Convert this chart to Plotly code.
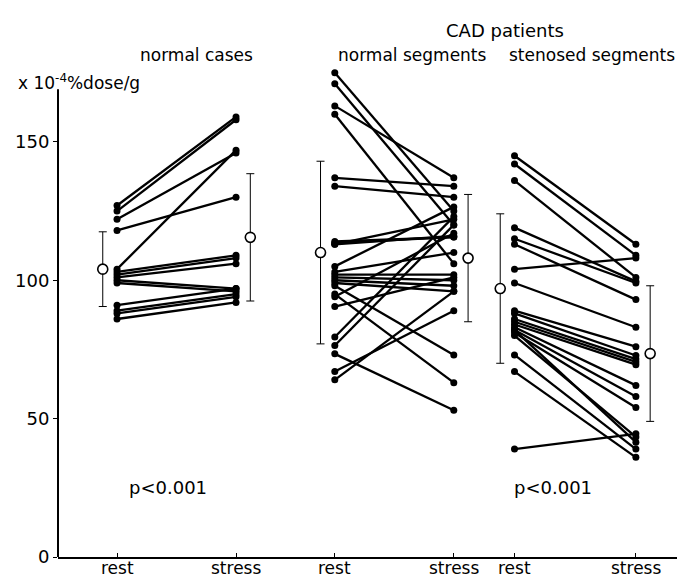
import plotly.graph_objects as go

# ---------------- data (x10^-4 %dose/g) ----------------
normal_rest   = [127, 125, 122, 118, 104, 103, 102, 101, 100, 99, 91, 89, 88, 86]
normal_stress = [159, 158, 146, 130, 147, 109, 108, 106, 97, 96, 97, 95, 94, 92]

cadn_rest   = [175, 171, 163, 160, 137, 134, 114, 113.5, 113, 113, 105, 103, 102, 101, 100, 99, 98, 95, 94, 90.5, 79.5, 76.4, 73.4, 67, 64]
cadn_stress = [125, 120, 137, 106, 134, 130, 115.6, 115.6, 116, 122, 126.5, 110, 102, 100, 98, 96, 73, 63, 117, 101, 123, 120, 53, 89, 96]

sten_rest   = [145, 142, 136, 119, 115, 113, 104, 99, 89, 88, 86, 85, 84, 83, 82, 81, 80, 82, 73, 67, 39]
sten_stress = [113, 109, 101, 99.6, 99, 93, 108, 83, 76, 72.8, 71.5, 70.5, 69.5, 62, 58, 54, 43.4, 41.5, 39, 36, 44.5]

mean_rest   = [104, 110, 97]
sd_rest     = [13.5, 33, 27]
mean_stress = [115.5, 108, 73.5]
sd_stress   = [23, 23, 24.5]

tick_labels = ["rest", "stress", "rest", "stress", "rest", "stress"]
group_titles = ["normal cases", "normal segments", "stenosed segments"]
super_title = "CAD patients"
y_unit = "x 10<sup>-4</sup>%dose/g"
p_labels = ["p&lt;0.001", "p&lt;0.001"]

# ---------------- layout constants ----------------
TICK_X = [0, 1, 1.83, 2.83, 3.34, 4.36]
MEAN_OFF = 0.12
FONT = "DejaVu Sans, sans-serif"

fig = go.Figure()

groups = [(normal_rest, normal_stress), (cadn_rest, cadn_stress), (sten_rest, sten_stress)]
for gi, (r, s) in enumerate(groups):
    xr, xs = TICK_X[2 * gi], TICK_X[2 * gi + 1]
    xx, yy = [], []
    for a, b in zip(r, s):
        xx += [xr, xs, None]
        yy += [a, b, None]
    fig.add_trace(go.Scatter(x=xx, y=yy, mode="lines+markers",
                             line=dict(color="black", width=2.3),
                             marker=dict(color="black", size=7),
                             showlegend=False, hoverinfo="skip"))

# means with SD
for gi in range(3):
    xr, xs = TICK_X[2 * gi] - MEAN_OFF, TICK_X[2 * gi + 1] + MEAN_OFF
    fig.add_trace(go.Scatter(
        x=[xr, xs], y=[mean_rest[gi], mean_stress[gi]], mode="markers",
        marker=dict(symbol="circle", size=10, color="white",
                    line=dict(color="black", width=1.6)),
        error_y=dict(type="data", array=[sd_rest[gi], sd_stress[gi]],
                     color="black", thickness=1, width=4),
        showlegend=False, hoverinfo="skip"))

fig.update_layout(
    width=685, height=579,
    margin=dict(l=50, r=0, t=50, b=30),
    paper_bgcolor="white", plot_bgcolor="white",
    font=dict(family=FONT, size=18, color="black"),
    xaxis=dict(range=[-0.496, 4.84], tickvals=TICK_X, showticklabels=False,
               showgrid=False, zeroline=False, showline=True, linecolor="black",
               linewidth=2, ticks="inside", ticklen=4, tickcolor="black",
               automargin=False),
    yaxis=dict(range=[0, 180.3], tickvals=[0, 50, 100, 150],
               showgrid=False, zeroline=False, showline=False,
               ticks="outside", ticklen=4, tickcolor="black",
               automargin=False, tickfont=dict(size=18)),
)

# y axis line (shorter than plot area)
fig.add_shape(type="line", xref="paper", yref="y", x0=0, x1=0, y0=0, y1=169,
              line=dict(color="black", width=2))

# x tick labels
for xv, lab in zip(TICK_X, tick_labels):
    fig.add_annotation(x=xv, y=0, xref="x", yref="paper", text=lab,
                       showarrow=False, yanchor="top", yshift=1,
                       font=dict(size=17))

# titles
title_x = [0.67, 2.48, 3.99]
for xv, t in zip(title_x, group_titles):
    fig.add_annotation(x=xv, y=1.006, xref="x", yref="paper", text=t,
                       showarrow=False, yanchor="middle", font=dict(size=17))
fig.add_annotation(x=3.26, y=1.056, xref="x", yref="paper", text=super_title,
                   showarrow=False, yanchor="middle", font=dict(size=18))
fig.add_annotation(x=-0.066, y=0.952, xref="paper", yref="paper", text=y_unit,
                   showarrow=False, xanchor="left", yanchor="middle",
                   font=dict(size=17))
fig.add_annotation(x=0.43, y=25, xref="x", yref="y", text=p_labels[0],
                   showarrow=False, font=dict(size=18))
fig.add_annotation(x=3.66, y=25, xref="x", yref="y", text=p_labels[1],
                   showarrow=False, font=dict(size=18))

fig.write_html("out.html")
